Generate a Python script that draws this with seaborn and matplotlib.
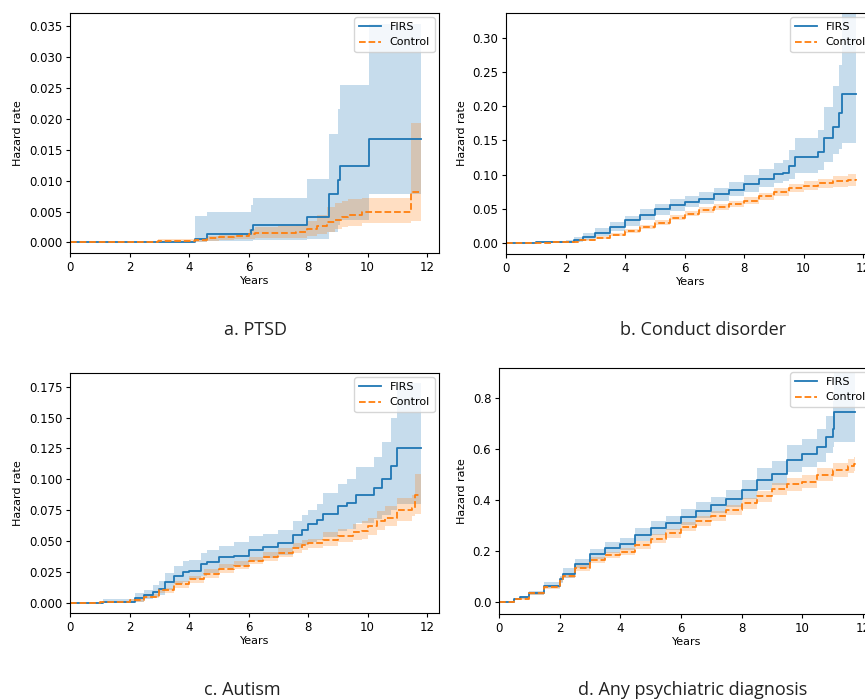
import numpy as np
import pandas as pd
import matplotlib
matplotlib.use("Agg")
import matplotlib.pyplot as plt
from matplotlib.ticker import MultipleLocator
import seaborn as sns

# ============================================
# DATA (cumulative hazard)
# ============================================

# a. PTSD
a_t_firs = [0, 4.2, 4.6, 6.07, 6.15, 7.98, 8.7, 9.0, 9.08, 10.05, 11.78]
a_firs = [0, 0.0006, 0.0013, 0.0020, 0.0028, 0.0041, 0.0078, 0.0101, 0.0123, 0.0168, 0.0168]
a_firs_hi = [0, 0.0043, 0.0049, 0.0060, 0.0072, 0.0102, 0.0176, 0.0215, 0.0254, 0.0354, 0.0354]
a_firs_lo = [0, 0.0001, 0.0002, 0.0003, 0.0004, 0.0006, 0.0017, 0.0028, 0.0036, 0.0078, 0.0078]

a_t_ctrl = [0, 2.95, 4.2, 4.6, 5.0, 5.5, 6.0, 6.2, 7.0, 7.6, 7.95, 8.3, 8.65, 8.9, 9.15, 9.35, 9.8, 11.45, 11.78]
a_ctrl = [0, 0.0002, 0.0004, 0.0007, 0.0009, 0.0011, 0.0013, 0.0015, 0.0015, 0.0017, 0.0022,
          0.0027, 0.0033, 0.0037, 0.0041, 0.0044, 0.0049, 0.0082, 0.0082]
a_ctrl_hi = [0, 0.0005, 0.0006, 0.0011, 0.0013, 0.0016, 0.0021, 0.0025, 0.0026, 0.0028, 0.0035,
             0.0045, 0.0058, 0.0064, 0.0067, 0.0070, 0.0072, 0.0193, 0.0193]
a_ctrl_lo = [0, 0.0000, 0.0001, 0.0003, 0.0004, 0.0005, 0.0006, 0.0007, 0.0007, 0.0008, 0.0010,
             0.0013, 0.0017, 0.0021, 0.0025, 0.0027, 0.0031, 0.0034, 0.0034]

# b. Conduct disorder
b_t_firs = [0, 1.0, 1.5, 2.0, 2.3, 2.6, 3.0, 3.5, 4.0, 4.5, 5.0, 5.5, 6.0, 6.5, 7.0, 7.5,
            8.0, 8.5, 9.0, 9.3, 9.5, 9.7, 10.5, 10.7, 11.0, 11.2, 11.3, 11.75]
b_firs = [0, 0.001, 0.001, 0.002, 0.004, 0.009, 0.015, 0.024, 0.033, 0.041, 0.049, 0.055, 0.060,
          0.065, 0.071, 0.077, 0.086, 0.094, 0.101, 0.103, 0.112, 0.126, 0.133, 0.154, 0.170,
          0.190, 0.218, 0.218]
b_firs_hi = [0, 0.002, 0.003, 0.005, 0.009, 0.015, 0.022, 0.031, 0.040, 0.049, 0.057, 0.064,
             0.069, 0.075, 0.081, 0.089, 0.099, 0.108, 0.117, 0.122, 0.136, 0.154, 0.165, 0.199,
             0.230, 0.260, 0.360, 0.360]
b_firs_lo = [0, 0.000, 0.000, 0.001, 0.002, 0.005, 0.010, 0.018, 0.025, 0.033, 0.041, 0.047,
             0.052, 0.057, 0.062, 0.068, 0.075, 0.082, 0.088, 0.090, 0.094, 0.102, 0.106, 0.119,
             0.130, 0.138, 0.146, 0.146]

b_t_ctrl = [0, 1.0, 1.5, 2.0, 2.5, 3.0, 3.5, 4.0, 4.5, 5.0, 5.5, 6.0, 6.5, 7.0, 7.5, 8.0,
            8.5, 9.0, 9.5, 10.0, 10.5, 11.0, 11.5, 11.75]
b_ctrl = [0, 0.000, 0.001, 0.002, 0.004, 0.008, 0.012, 0.017, 0.023, 0.030, 0.037, 0.043,
          0.048, 0.052, 0.057, 0.062, 0.068, 0.074, 0.080, 0.084, 0.087, 0.090, 0.092, 0.093]
b_ctrl_hi = [0, 0.001, 0.002, 0.003, 0.006, 0.010, 0.015, 0.020, 0.027, 0.034, 0.041, 0.047,
             0.052, 0.057, 0.062, 0.067, 0.073, 0.080, 0.086, 0.091, 0.094, 0.098, 0.101, 0.102]
b_ctrl_lo = [0, 0.000, 0.000, 0.001, 0.003, 0.006, 0.010, 0.014, 0.020, 0.026, 0.033, 0.039,
             0.044, 0.048, 0.052, 0.057, 0.063, 0.068, 0.074, 0.078, 0.080, 0.082, 0.084, 0.084]

# c. Autism
c_t_firs = [0, 1.1, 2.0, 2.2, 2.5, 2.8, 3.0, 3.2, 3.5, 3.8, 4.0, 4.4, 4.6, 5.0, 5.5, 6.0, 6.5,
            7.0, 7.5, 7.8, 8.0, 8.3, 8.5, 9.0, 9.3, 9.6, 10.2, 10.5, 10.8, 11.0, 11.78]
c_firs = [0, 0.0005, 0.001, 0.004, 0.006, 0.009, 0.011, 0.017, 0.022, 0.025, 0.026, 0.031,
          0.033, 0.037, 0.038, 0.043, 0.045, 0.048, 0.055, 0.059, 0.064, 0.067, 0.072, 0.078,
          0.081, 0.087, 0.093, 0.100, 0.111, 0.125, 0.125]
c_firs_hi = [0, 0.003, 0.003, 0.008, 0.010, 0.014, 0.018, 0.024, 0.030, 0.034, 0.035, 0.040,
             0.043, 0.046, 0.049, 0.054, 0.056, 0.059, 0.066, 0.071, 0.075, 0.080, 0.089, 0.096,
             0.100, 0.110, 0.118, 0.130, 0.150, 0.178, 0.178]
c_firs_lo = [0, 0.000, 0.000, 0.001, 0.003, 0.005, 0.006, 0.010, 0.015, 0.017, 0.019, 0.022,
             0.024, 0.028, 0.030, 0.034, 0.036, 0.039, 0.044, 0.047, 0.049, 0.051, 0.053, 0.058,
             0.060, 0.065, 0.068, 0.071, 0.075, 0.080, 0.080]

c_t_ctrl = [0, 1.0, 2.0, 2.5, 3.0, 3.5, 4.0, 4.5, 5.0, 5.5, 6.0, 6.5, 7.0, 7.5, 7.8, 8.0, 8.5,
            9.0, 9.5, 9.8, 10.0, 10.3, 10.6, 11.0, 11.5, 11.6, 11.78]
c_ctrl = [0, 0.0005, 0.002, 0.005, 0.010, 0.015, 0.019, 0.023, 0.027, 0.030, 0.034, 0.037,
          0.040, 0.044, 0.047, 0.048, 0.051, 0.054, 0.057, 0.058, 0.062, 0.066, 0.069, 0.075,
          0.077, 0.087, 0.087]
c_ctrl_hi = [0, 0.001, 0.003, 0.007, 0.012, 0.018, 0.022, 0.027, 0.031, 0.034, 0.037, 0.041,
             0.044, 0.048, 0.051, 0.052, 0.057, 0.060, 0.064, 0.066, 0.069, 0.074, 0.078, 0.085,
             0.087, 0.104, 0.104]
c_ctrl_lo = [0, 0.000, 0.001, 0.004, 0.008, 0.012, 0.016, 0.020, 0.024, 0.027, 0.031, 0.034,
             0.037, 0.040, 0.043, 0.044, 0.046, 0.049, 0.051, 0.052, 0.055, 0.059, 0.062, 0.066,
             0.070, 0.072, 0.072]

# d. Any psychiatric diagnosis
d_t_firs = [0, 0.5, 0.7, 1.0, 1.5, 2.0, 2.1, 2.5, 3.0, 3.5, 4.0, 4.5, 5.0, 5.5, 6.0, 6.5, 7.0,
            7.5, 8.0, 8.5, 9.0, 9.5, 10.0, 10.5, 10.8, 11.0, 11.05, 11.75]
d_firs = [0, 0.012, 0.020, 0.035, 0.065, 0.090, 0.112, 0.150, 0.190, 0.212, 0.228, 0.265,
          0.290, 0.310, 0.336, 0.360, 0.380, 0.405, 0.440, 0.480, 0.505, 0.560, 0.580, 0.610,
          0.650, 0.680, 0.745, 0.745]
d_firs_hi = [0, 0.017, 0.026, 0.045, 0.078, 0.105, 0.135, 0.170, 0.210, 0.235, 0.253, 0.290,
             0.318, 0.340, 0.366, 0.392, 0.412, 0.440, 0.478, 0.525, 0.555, 0.615, 0.640, 0.680,
             0.730, 0.790, 0.900, 0.900]
d_firs_lo = [0, 0.008, 0.014, 0.028, 0.055, 0.076, 0.095, 0.135, 0.170, 0.192, 0.205, 0.242,
             0.265, 0.282, 0.305, 0.330, 0.350, 0.372, 0.405, 0.440, 0.460, 0.510, 0.530, 0.550,
             0.585, 0.610, 0.630, 0.630]

d_t_ctrl = [0, 0.5, 1.0, 1.5, 2.0, 2.1, 2.5, 3.0, 3.5, 4.0, 4.5, 5.0, 5.5, 6.0, 6.5, 7.0, 7.5,
            8.0, 8.5, 9.0, 9.5, 10.0, 10.5, 11.0, 11.5, 11.7, 11.75]
d_ctrl = [0, 0.012, 0.035, 0.060, 0.090, 0.105, 0.135, 0.165, 0.185, 0.199, 0.225, 0.250,
          0.270, 0.297, 0.318, 0.340, 0.362, 0.388, 0.415, 0.445, 0.462, 0.473, 0.500, 0.520,
          0.535, 0.541, 0.545]
d_ctrl_hi = [0, 0.016, 0.042, 0.068, 0.099, 0.115, 0.146, 0.177, 0.198, 0.214, 0.240, 0.266,
             0.287, 0.315, 0.337, 0.360, 0.383, 0.410, 0.438, 0.469, 0.487, 0.498, 0.526, 0.547,
             0.562, 0.568, 0.600]
d_ctrl_lo = [0, 0.008, 0.028, 0.052, 0.081, 0.095, 0.124, 0.153, 0.172, 0.186, 0.210, 0.234,
             0.253, 0.279, 0.299, 0.320, 0.341, 0.366, 0.392, 0.421, 0.437, 0.448, 0.474, 0.493,
             0.508, 0.514, 0.515]

captions = ["a. PTSD", "b. Conduct disorder", "c. Autism", "d. Any psychiatric diagnosis"]

# ============================================
# FIGURE
# ============================================

plt.rcParams["font.size"] = 8.5

fig = plt.figure(figsize=(8.65, 6.99), dpi=100)

W, H = 865, 699


def add_axes(left, top, width, height):
    return fig.add_axes([left / W, 1 - (top + height) / H, width / W, height / H])


panels = [
    dict(ax=add_axes(70, 13, 369, 240), ylim=(-0.0017, 0.0371), step=0.005,
         firs=(a_t_firs, a_firs, a_firs_lo, a_firs_hi),
         ctrl=(a_t_ctrl, a_ctrl, a_ctrl_lo, a_ctrl_hi)),
    dict(ax=add_axes(506, 13, 369, 241), ylim=(-0.016, 0.336), step=0.05,
         firs=(b_t_firs, b_firs, b_firs_lo, b_firs_hi),
         ctrl=(b_t_ctrl, b_ctrl, b_ctrl_lo, b_ctrl_hi)),
    dict(ax=add_axes(70, 373, 369, 240), ylim=(-0.0083, 0.1861), step=0.025,
         firs=(c_t_firs, c_firs, c_firs_lo, c_firs_hi),
         ctrl=(c_t_ctrl, c_ctrl, c_ctrl_lo, c_ctrl_hi)),
    dict(ax=add_axes(499, 368, 376, 246), ylim=(-0.046, 0.919), step=0.2,
         firs=(d_t_firs, d_firs, d_firs_lo, d_firs_hi),
         ctrl=(d_t_ctrl, d_ctrl, d_ctrl_lo, d_ctrl_hi)),
]

blue = "#1f77b4"
orange = "#ff7f0e"

for p in panels:
    ax = p["ax"]
    for (t, y, lo, hi), color, ls, name in [
        (p["firs"], blue, "-", "FIRS"),
        (p["ctrl"], orange, "--", "Control"),
    ]:
        ax.fill_between(t, lo, hi, step="post", color=color, alpha=0.25, linewidth=0)
        sns.lineplot(
            x=t,
            y=y,
            ax=ax,
            color=color,
            linestyle=ls,
            linewidth=1.3,
            drawstyle="steps-post",
            errorbar=None,
            label=name,
        )

    ax.set_xlim(0, 12.4)
    ax.set_ylim(*p["ylim"])
    ax.xaxis.set_major_locator(MultipleLocator(2))
    ax.yaxis.set_major_locator(MultipleLocator(p["step"]))
    ax.set_xlabel("Years", fontsize=8, labelpad=2)
    ax.set_ylabel("Hazard rate", fontsize=8)
    ax.tick_params(labelsize=8.5, length=3, pad=2.5)
    ax.legend(loc="upper right", fontsize=8, borderaxespad=0.4)

# captions under each panel
cap_pos = [(256, 330), (703, 330), (242, 690), (693, 690)]
for text, (x, y) in zip(captions, cap_pos):
    fig.text(x / W, 1 - y / H, text, ha="center", va="center",
             fontsize=13, family=["Open Sans", "DejaVu Sans"], color="#222222")

fig.savefig("out.png", dpi=100)
